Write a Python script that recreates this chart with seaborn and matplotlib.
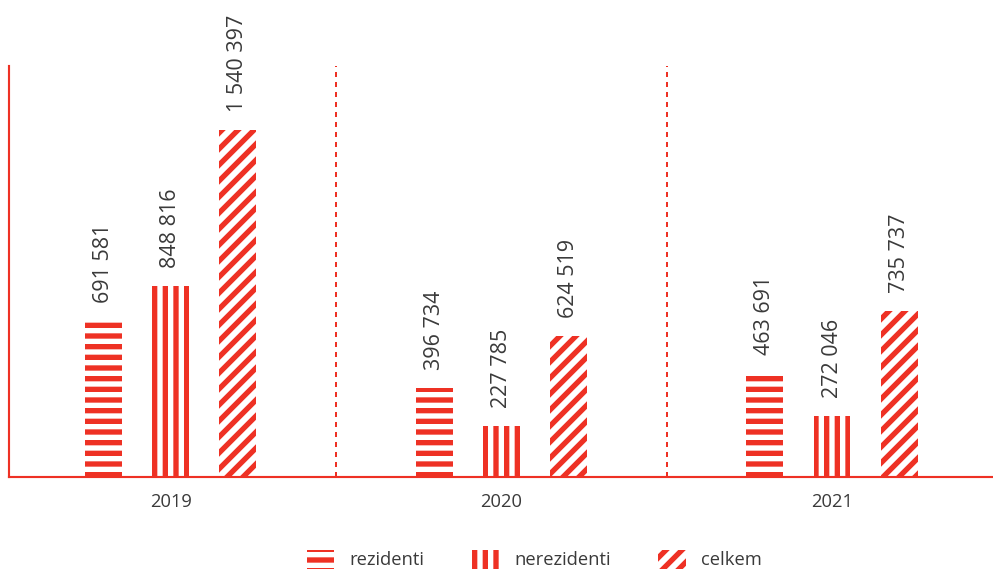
import matplotlib
matplotlib.use("Agg")
import matplotlib.pyplot as plt
from matplotlib.patches import Patch
import seaborn as sns
import pandas as pd

years = ["2019", "2020", "2021"]
series = ["rezidenti", "nerezidenti", "celkem"]
rezidenti = [691581, 396734, 463691]
nerezidenti = [848816, 227785, 272046]
celkem = [1540397, 624519, 735737]

RED = "#EE3124"
TXT = "#3a3a3a"
DPI = 192

df = pd.DataFrame({
    "rok": years * 3,
    "typ": [s for s in series for _ in years],
    "hodnota": rezidenti + nerezidenti + celkem,
})

sns.set_theme(style="white")
plt.rcParams["font.family"] = ["Open Sans", "DejaVu Sans"]
plt.rcParams["hatch.linewidth"] = 2.0
plt.rcParams["hatch.color"] = RED

fig = plt.figure(figsize=(993 / DPI, 571 / DPI), dpi=DPI)
XMIN, XMAX = -0.4889, 2.5
ax = fig.add_axes([9 / 993, 1 - 477 / 571, (XMAX - XMIN) * 330.67 / 993, 411 / 571])

sns.barplot(data=df, x="rok", y="hodnota", hue="typ", order=years,
            hue_order=series, palette=["white"] * 3, edgecolor=RED,
            linewidth=0, width=0.61, gap=0.45, legend=False, ax=ax)

hatches = ["---", "|||", "////"]
for cont, h in zip(ax.containers, hatches):
    for bar in cont:
        bar.set_hatch(h)
        bar.set_edgecolor(RED)
        bar.set_linewidth(0)
        v = bar.get_height()
        ax.annotate(f"{int(round(v)):,}".replace(",", " "),
                    (bar.get_x() + bar.get_width() / 2, v),
                    xytext=(0, 6.7), textcoords="offset points",
                    rotation=90, ha="center", va="bottom",
                    fontsize=8.07, color=TXT)

ax.set_xlim(XMIN, XMAX)
ax.set_ylim(0, 1824500)
for xv in [0.5, 1.5]:
    ax.axvline(xv, color=RED, lw=0.75, linestyle=(0, (2.5, 2.5)))

for s in ["top", "right"]:
    ax.spines[s].set_visible(False)
for s in ["left", "bottom"]:
    ax.spines[s].set_color(RED)
    ax.spines[s].set_linewidth(0.8)
ax.set_yticks([])
ax.set_xlabel("")
ax.set_ylabel("")
ax.tick_params(axis="x", length=0, pad=6, labelsize=6.9, labelcolor=TXT)

handles = [Patch(facecolor="white", edgecolor=RED, linewidth=0, hatch=h, label=s)
           for h, s in zip(hatches, series)]
fig.legend(handles=handles, loc="center", bbox_to_anchor=(0.538, 0.02),
           ncol=3, frameon=False, fontsize=6.9, labelcolor=TXT,
           handlelength=1.5, handleheight=1.2, handletextpad=0.8,
           columnspacing=2.6)

fig.savefig("out.png", dpi=DPI)
